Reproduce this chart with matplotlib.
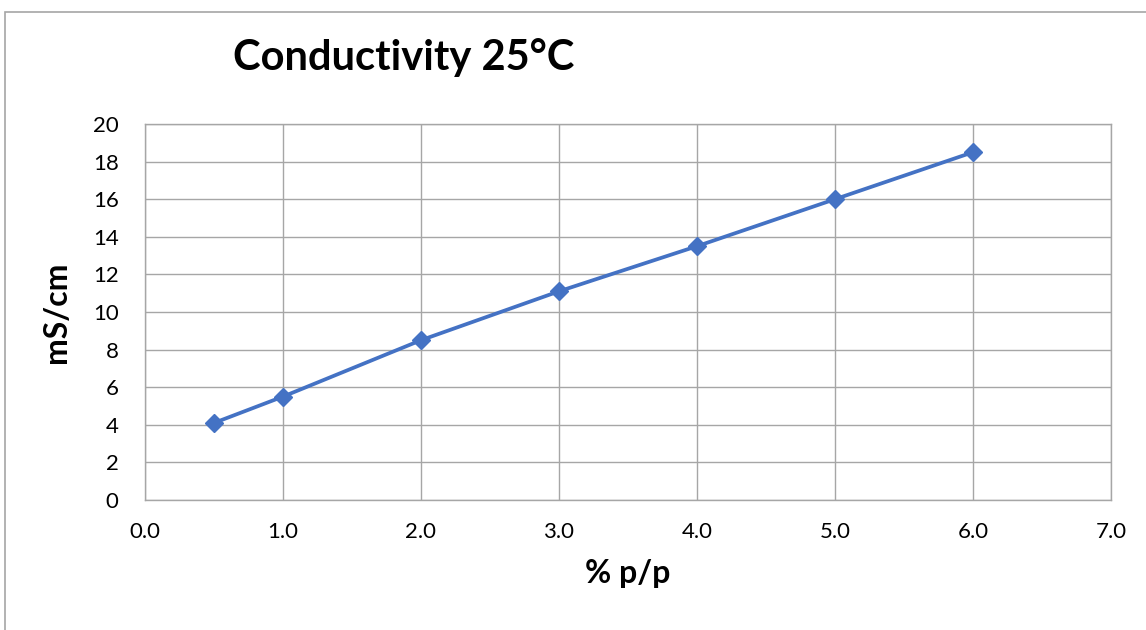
import matplotlib
matplotlib.use("Agg")
import matplotlib.pyplot as plt
from matplotlib.patches import Rectangle

# data
conc = [0.5, 1.0, 2.0, 3.0, 4.0, 5.0, 6.0]
cond = [4.1, 5.5, 8.5, 11.1, 13.5, 16.0, 18.5]
xticks = [0, 1, 2, 3, 4, 5, 6, 7]
yticks = [0, 2, 4, 6, 8, 10, 12, 14, 16, 18, 20]

plt.rcParams['font.family'] = ['Lato', 'DejaVu Sans']

W, H = 1146, 630
fig = plt.figure(figsize=(W / 100, H / 100), dpi=100)
ax = fig.add_axes([145 / W, 1 - 500 / H, (1111 - 145) / W, (500 - 124) / H])

grey = '#a6a6a6'
ax.plot(conc, cond, color='#4472c4', lw=2.7, marker='D', ms=9, zorder=3)

ax.set_xlim(0, 7)
ax.set_ylim(0, 20)
ax.set_xticks(xticks)
ax.set_xticklabels(['%.1f' % v for v in xticks])
ax.set_yticks(yticks)
ax.grid(True, color=grey, lw=1)
for s in ax.spines.values():
    s.set_color(grey)
    s.set_linewidth(1)
ax.tick_params(length=0, labelsize=16, pad=19)
ax.tick_params(axis='x', pad=16)

ax.set_xlabel('% p/p', fontsize=23, fontweight='bold', labelpad=12)
ax.set_ylabel('mS/cm', fontsize=23, fontweight='bold', labelpad=16)

fig.text(233 / W, 1 - 58 / H, 'Conductivity 25°C', fontsize=30, fontweight='bold',
         ha='left', va='center')

# outer chart border
fig.patches.append(Rectangle((5 / W, -0.1), 1.2, 1 - 12 / H + 0.1, transform=fig.transFigure,
                             fill=False, edgecolor=grey, lw=1.2))

fig.savefig('out.png', dpi=100)
